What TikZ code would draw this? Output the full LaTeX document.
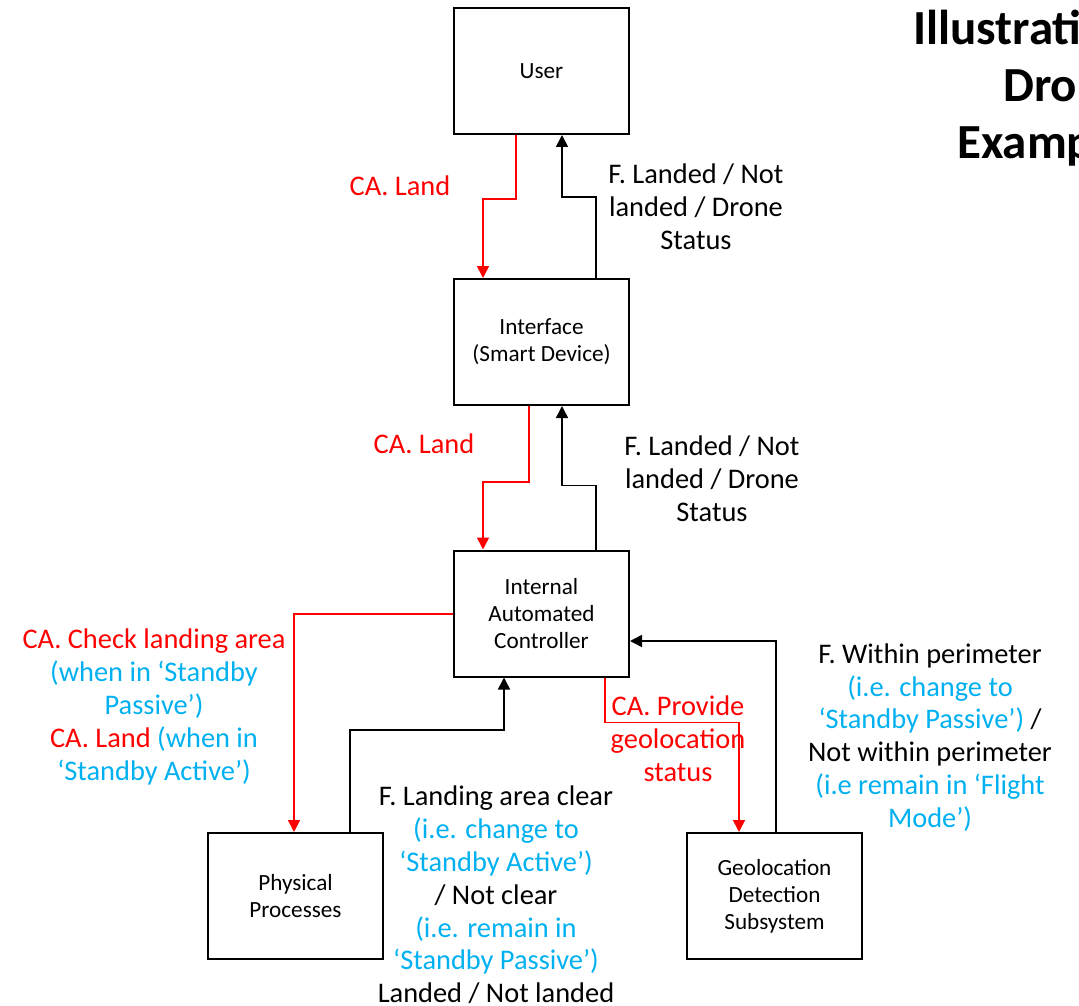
\documentclass[tikz,border=0pt]{standalone}
\usepackage{fontspec}
\setmainfont{Carlito}
\usetikzlibrary{arrows.meta}
\definecolor{lblue}{RGB}{0,176,240}
\definecolor{cred}{RGB}{255,0,0}
\newcommand{\bl}[1]{\textcolor{lblue}{#1}}
\newcommand{\rd}[1]{\textcolor{cred}{#1}}

\begin{document}
\begin{tikzpicture}[x=1pt,y=-1pt,
  block/.style={draw, line width=2pt, minimum width=175pt, minimum height=126pt,
    inner sep=0pt, align=center, font=\fontsize{23.2}{27}\selectfont},
  lbl/.style={align=center, inner sep=0pt, font=\fontsize{28.4}{32.8}\selectfont},
  ttl/.style={anchor=base west, inner sep=0pt, font=\fontsize{49}{57}\selectfont\bfseries},
  ctrl/.style={draw=cred, line width=1.6pt, -{Triangle[length=12pt,width=12pt]}},
  fbk/.style={draw=black, line width=1.6pt, -{Triangle[length=12pt,width=12pt]}}]
\useasboundingbox (0,0) rectangle (1079,1006);

% components
\node[block] (user)  at (541.5,71)    {User};
\node[block] (iface) at (541.5,342)   {Interface\\(Smart Device)};
\node[block] (iac)   at (541.5,613.5) {Internal\\Automated\\Controller};
\node[block] (phys)  at (295.5,896)   {Physical\\Processes};
\node[block] (geo)   at (774.5,896)   {Geolocation\\Detection\\Subsystem};

% control actions
\draw[ctrl] ([xshift=-25.5pt]user.south) -- ++(0,64) -| ([xshift=-58.5pt]iface.north);
\draw[ctrl] ([xshift=-12.5pt]iface.south) -- ++(0,76) -| ([xshift=-58.5pt]iac.north);
\draw[ctrl] ([yshift=-0.5pt]iac.west) -| ([xshift=-1.5pt]phys.north);
\draw[ctrl] ([xshift=63.5pt]iac.south) -- ++(0,45) -| ([xshift=-35.5pt]geo.north);

% feedback
\draw[fbk] ([xshift=54.5pt]iface.north) -- ++(0,-81) -| ([xshift=20.5pt]user.south);
\draw[fbk] ([xshift=54.5pt]iac.north) -- ++(0,-64) -| ([xshift=20.5pt]iface.south);
\draw[fbk] ([xshift=54.5pt]phys.north) -- ++(0,-102) -| ([xshift=-37.5pt]iac.south);
\draw[fbk] ([xshift=1.5pt]geo.north) |- ([yshift=-27.5pt]iac.east);

% labels
\node[lbl, text=cred] (l1) at (400,186) {CA. Land};
\node[lbl] (l2) at (696,207) {F. Landed / Not\\landed / Drone\\Status};
\node[lbl, text=cred] (l3) at (424,444) {CA. Land};
\node[lbl] (l4) at (712,479) {F. Landed / Not\\landed / Drone\\Status};
\node[lbl] (l5) at (154,707) {\rd{CA. Check landing area}\\\bl{(when in ‘Standby}\\\bl{Passive’)}\\\rd{CA. Land} \bl{(when in}\\\bl{‘Standby Active’)}};
\node[lbl, text=cred] (l6) at (678,739) {CA. Provide\\geolocation\\status};
\node[lbl] (l7) at (930,737.5) {F. Within perimeter\\\bl{(i.e. change to}\\\bl{‘Standby Passive’)} /\\Not within perimeter\\\bl{(i.e remain in ‘Flight}\\\bl{Mode’)}};
\node[lbl] (l8) at (496,895) {F. Landing area clear\\\bl{(i.e. change to}\\\bl{‘Standby Active’)}\\/ Not clear\\\bl{(i.e. remain in}\\\bl{‘Standby Passive’)}\\Landed / Not landed};

% title
\node[ttl] (t1) at (913,45)  {Illustration};
\node[ttl] (t2) at (1003,102) {Drone};
\node[ttl] (t3) at (957,158) {Example};
\end{tikzpicture}
\end{document}
